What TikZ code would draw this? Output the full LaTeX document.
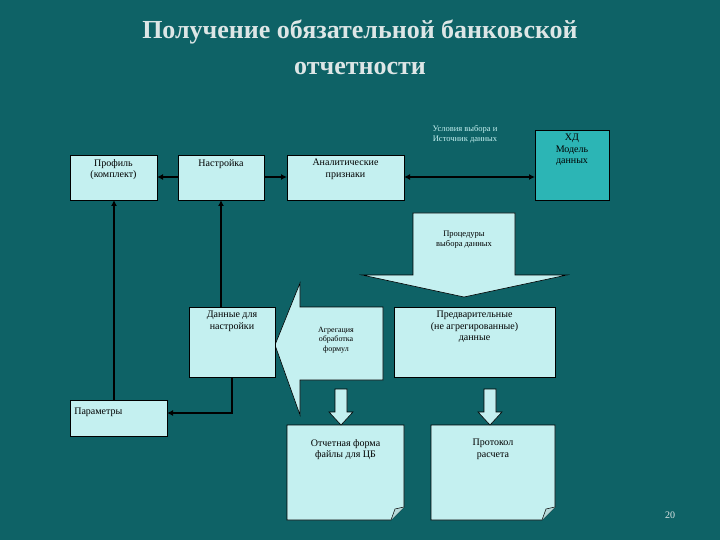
\documentclass[tikz,border=0pt]{standalone}
\usepackage{fontspec}
\setmainfont{Liberation Serif}
\usetikzlibrary{arrows.meta}
\definecolor{bg}{HTML}{0E6266}
\definecolor{bx}{HTML}{C4F0F0}
\definecolor{hd}{HTML}{2CB5B5}
\definecolor{ttl}{HTML}{DDE6E6}
\begin{document}
\begin{tikzpicture}[x=1pt,y=-1pt,
  box/.style={draw=black,fill=bx,line width=0.6pt,align=center,font=\fontsize{10}{11.5}\selectfont,inner sep=2pt},
  con/.style={line width=2pt,draw=black,-{Latex[length=6pt,width=6pt]}},
  big/.style={draw=black,fill=bx,line width=0.6pt}]
\fill[bg] (0,0) rectangle (720,540);
\useasboundingbox (0,0) rectangle (720,540);
\node[text=ttl,align=center,font=\fontsize{26}{36}\selectfont\bfseries] (title) at (360,47) {Получение обязательной банковской\\отчетности};
% boxes
\draw[box] (70,155) rectangle (157,200); \node[box,draw=none,fill=none,anchor=north] (prof) at (113.5,157) {Профиль\\(комплект)};
\coordinate (profB) at (114,200); \coordinate (profR) at (157,177);
\draw[box] (178,155) rectangle (264,200); \node[box,draw=none,fill=none,anchor=north] (nast) at (221,157) {Настройка};
\coordinate (nastL) at (178,177); \coordinate (nastR) at (264,177); \coordinate (nastB) at (221,200);
\draw[box] (287,155) rectangle (404,200); \node[box,draw=none,fill=none,anchor=north] (anal) at (345.5,157) {Аналитические\\признаки};
\coordinate (analL) at (287,177); \coordinate (analR) at (404,177);
\draw[box,fill=hd] (535,130) rectangle (609,200); \node[box,draw=none,fill=none,anchor=north] (hd) at (572,132) {ХД\\Модель\\данных};
\coordinate (hdL) at (535,177);
\node[text=bx,align=center,font=\fontsize{8.5}{10}\selectfont] (usl) at (465,134) {Условия выбора и\\Источник данных};
% procedures big arrow
\draw[big] (413,213) -- (515,213) -- (515,275) -- (567,275) -- (464,297) -- (362,275) -- (413,275) -- cycle;
\node[box,draw=none,fill=none,font=\fontsize{8.5}{10}\selectfont] (proc) at (464,240) {Процедуры\\выбора данных};
% aggregation big arrow
\draw[big] (383,307) -- (383,380) -- (300,380) -- (300,415) -- (275,345) -- (300,283) -- (300,307) -- cycle;
\node[box,draw=none,fill=none,font=\fontsize{8}{9.5}\selectfont] (agr) at (336,340) {Агрегация\\обработка\\формул};
\draw[box] (189,307) rectangle (275,377); \node[box,draw=none,fill=none,anchor=north] (dan) at (232,309) {Данные для\\настройки};
\coordinate (danT) at (221,307); \coordinate (danB) at (232,377);
\draw[box] (394,307) rectangle (555,377); \node[box,draw=none,fill=none,anchor=north] (pred) at (474.5,309) {Предварительные\\(не агрегированные)\\данные};
\draw[box] (70,400) rectangle (167,436); \node[box,draw=none,fill=none,anchor=west] (par) at (72,412) {Параметры};
\coordinate (parR) at (167,413); \coordinate (parT) at (114,400);
% notes
\draw[box] (287,425) -- (404,425) -- (404,507) -- (391,520) -- (287,520) -- cycle;
\draw[black,fill=bx!80!gray,line width=0.5pt] (404,507) -- (395,509) -- (391,520);
\node[box,draw=none,fill=none,anchor=north] (otch) at (345.5,437) {Отчетная форма\\файлы для ЦБ};
\draw[box] (431,425) -- (555,425) -- (555,507) -- (542,520) -- (431,520) -- cycle;
\draw[black,fill=bx!80!gray,line width=0.5pt] (555,507) -- (546,509) -- (542,520);
\node[box,draw=none,fill=none,anchor=north] (prot) at (493,437) {Протокол\\расчета};
% small arrows
\draw[big] (335,389) -- (347,389) -- (347,412) -- (353,412) -- (341,425) -- (329,412) -- (335,412) -- cycle;
\draw[big] (484,389) -- (496,389) -- (496,412) -- (502,412) -- (490,425) -- (478,412) -- (484,412) -- cycle;
% connectors
\draw[con] (nastL) -- (profR);
\draw[con] (nastR) -- (analL);
\draw[con,{Latex[length=6pt,width=6pt]}-{Latex[length=6pt,width=6pt]}] (analR) -- (hdL);
\draw[con] (parT) -- (profB);
\draw[con] (danT) -- (nastB);
\draw[con] (danB) |- (parR);
\node[text=ttl,font=\fontsize{10}{11}\selectfont] (num) at (670,515) {20};
\end{tikzpicture}
\end{document}
